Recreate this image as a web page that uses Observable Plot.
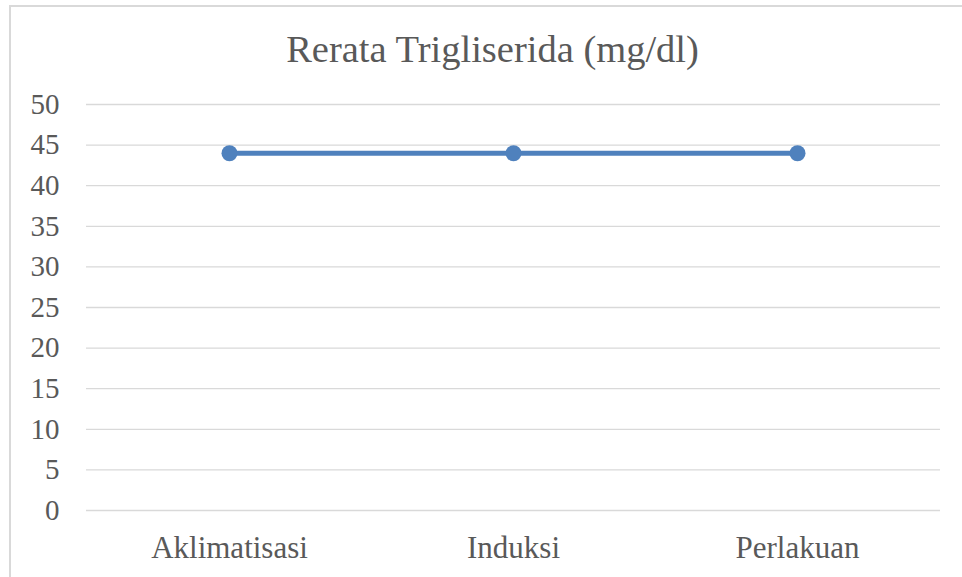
<!DOCTYPE html>
<html>
<head>
<meta charset="utf-8">
<script src="https://cdn.jsdelivr.net/npm/d3@7"></script>
<script src="https://cdn.jsdelivr.net/npm/@observablehq/plot@0.6"></script>
<style>
  html, body { margin: 0; padding: 0; background: #fff; overflow: hidden; }
  #wrap { position: relative; width: 962px; height: 577px; }
  #border { position: absolute; left: 9px; top: 5px; width: 1000px; height: 1000px;
            border-left: 2px solid #d9d9d9; border-top: 2px solid #d9d9d9; box-sizing: border-box; }
  #chart { position: absolute; left: 0; top: 0; }
</style>
</head>
<body>
<div id="wrap"><div id="border"></div><div id="chart"></div></div>
<script>
const title = "Rerata Trigliserida (mg/dl)";
const categories = ["Aklimatisasi", "Induksi", "Perlakuan"];
const values = [44, 44, 44];
const yTicks = [0, 5, 10, 15, 20, 25, 30, 35, 40, 45, 50];

const data = categories.map((c, i) => ({category: c, value: values[i]}));
const serif = "'Liberation Serif', 'Times New Roman', Times, 'DejaVu Serif', serif";

const chart = Plot.plot({
  width: 962,
  height: 577,
  marginLeft: 86,
  marginRight: 22,
  marginTop: 104,
  marginBottom: 67,
  style: {color: "#595959", background: "transparent", overflow: "visible"},
  x: {type: "point", domain: categories, padding: 0.5},
  y: {domain: [0, 50]},
  marks: [
    Plot.gridY(yTicks, {stroke: "#d9d9d9", strokeOpacity: 1, strokeWidth: 1.3}),
    Plot.axisY(yTicks, {tickSize: 0, tickPadding: 27, fontSize: 29, label: null}),
    Plot.axisX({tickSize: 0, tickPadding: 25, fontSize: 31, label: null}),
    Plot.line(data, {x: "category", y: "value", stroke: "#4f81bd", strokeWidth: 5}),
    Plot.dot(data, {x: "category", y: "value", r: 8, fill: "#4f81bd", stroke: "none"}),
    Plot.text([title], {frameAnchor: "top", lineAnchor: "bottom", dy: -43, dx: -21, fontSize: 38.5, fill: "#595959", text: d => d})
  ]
});
chart.querySelectorAll("text").forEach(t => t.setAttribute("style", "font-family: " + serif));
chart.querySelectorAll("g").forEach(g => g.setAttribute("font-family", serif));
chart.style.fontFamily = serif;
document.getElementById("chart").appendChild(chart);
</script>
</body>
</html>
